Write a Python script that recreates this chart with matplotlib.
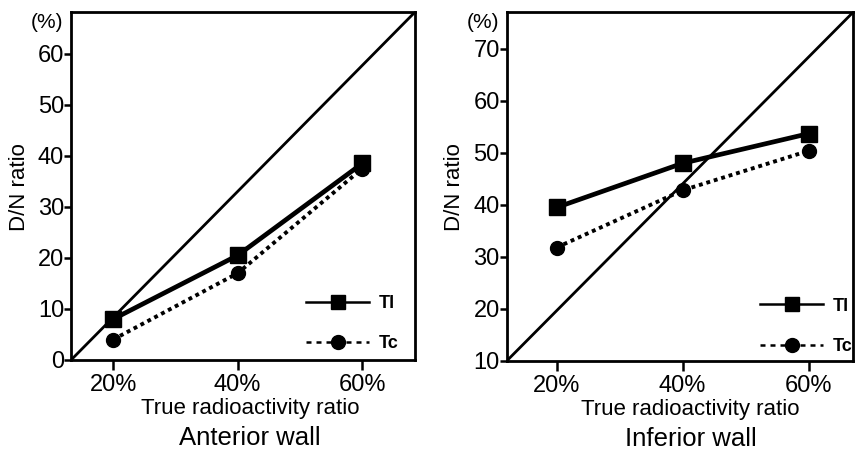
import matplotlib; matplotlib.use('Agg')
import numpy as np
import matplotlib.pyplot as plt
from matplotlib.lines import Line2D
from matplotlib import font_manager

plt.rcParams['font.family'] = ['Liberation Sans', 'DejaVu Sans']
names = sorted({f.name for f in font_manager.fontManager.ttflist})
NARROW = 'Liberation Sans Narrow' if 'Liberation Sans Narrow' in names else 'Liberation Sans'

true_ratio = [20, 40, 60]
x_ticklabels = ['20%', '40%', '60%']

ant_tl = [8.0, 20.5, 38.5]
ant_tc = [4.0, 17.0, 37.5]
ant_yticks = [0, 10, 20, 30, 40, 50, 60]

inf_tl = [39.5, 48.0, 53.7]
inf_tc = [31.8, 42.8, 50.4]
inf_yticks = [10, 20, 30, 40, 50, 60, 70]

panels = [
    # rect, tl, tc, yticks, xlim, ylim, title, text x, legend anchor
    ([0.083, 0.214, 0.402, 0.760], ant_tl, ant_tc, ant_yticks, (13.25, 68.5), (0, 68.2),
     'Anterior wall', 0.52, (1.0, -0.025)),
    ([0.592, 0.212, 0.405, 0.762], inf_tl, inf_tc, inf_yticks, (12.1, 67.1), (10, 77.1),
     'Inferior wall', 0.53, (1.045, -0.03)),
]

fig = plt.figure(figsize=(8.56, 4.58), dpi=100)
for rect, tl, tc, yticks, xlim, ylim, title, tx, anchor in panels:
    ax = fig.add_axes(rect)
    # identity reference line, corner to corner
    ax.plot([0, 1], [0, 1], transform=ax.transAxes, color='black', lw=2.0, zorder=2)
    ax.plot(true_ratio, tc, color='black', lw=2.8, ls=(0, (1, 1)), marker='o', ms=10, zorder=3)
    ax.plot(true_ratio, tl, color='black', lw=3.4, marker='s', ms=11, zorder=4)
    ax.set_xlim(*xlim); ax.set_ylim(*ylim)
    ax.set_xticks(true_ratio); ax.set_xticklabels(x_ticklabels)
    ax.set_yticks(yticks)
    ax.tick_params(axis='both', direction='out', width=1.8, labelsize=17, color='black')
    ax.tick_params(axis='y', length=5, pad=0)
    ax.tick_params(axis='x', length=7, pad=3)
    for lab in ax.get_xticklabels() + ax.get_yticklabels():
        lab.set_family([NARROW, 'DejaVu Sans'])
    for s in ax.spines.values():
        s.set_linewidth(2.0)
    ax.text(-0.069, 0.97, '(%)', transform=ax.transAxes, fontsize=15, ha='center', va='center')
    ax.text(-0.15, 0.497, 'D/N ratio', transform=ax.transAxes, fontsize=16, rotation=90,
            ha='center', va='center')
    ax.text(tx, -0.11, 'True radioactivity ratio', transform=ax.transAxes, fontsize=16,
            ha='center', va='top')
    ax.text(tx, -0.19, title, transform=ax.transAxes, fontsize=18.5, ha='center', va='top')
    handles = [
        Line2D([], [], color='black', lw=1.8, marker='s', ms=10),
        Line2D([], [], color='black', lw=1.8, ls=(0, (2, 2)), marker='o', ms=10),
    ]
    ax.legend(handles, ['Tl', 'Tc'], loc='lower right', frameon=False, handlelength=3.5,
              labelspacing=1.3, handletextpad=0.55, prop={'weight': 'bold', 'size': 13},
              bbox_to_anchor=anchor)

fig.savefig('out.png', dpi=100)
